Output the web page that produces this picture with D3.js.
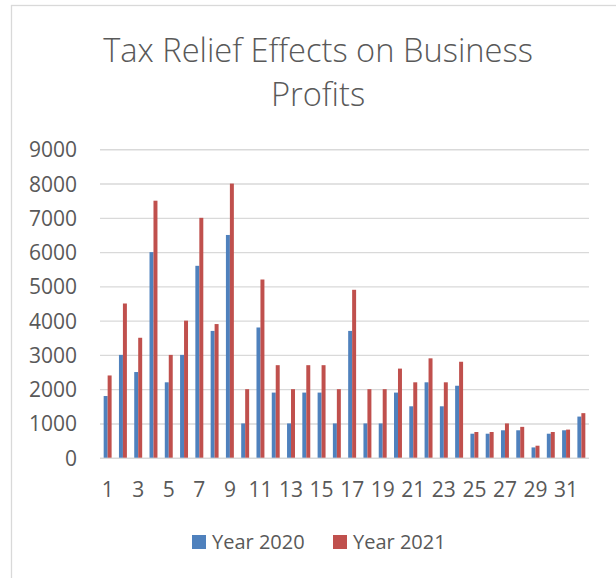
<!DOCTYPE html>
<html><head><meta charset="utf-8">
<script src="https://cdn.jsdelivr.net/npm/d3@7"></script>
<style>html,body{margin:0;padding:0;background:#fff;}svg{display:block;}</style>
</head><body>
<svg id="chart" width="616" height="578"></svg>
<script>
const titleLines = ["Tax Relief Effects on Business", "Profits"];
const categories = d3.range(1, 33).map(String);
const seriesNames = ["Year 2020", "Year 2021"];
const year2020 = [1800,3000,2500,6000,2200,3000,5600,3700,6500,1000,3800,1900,1000,1900,1900,1000,3700,1000,1000,1900,1500,2200,1500,2100,700,700,800,800,300,700,800,1200];
const year2021 = [2400,4500,3500,7500,3000,4000,7000,3900,8000,2000,5200,2700,2000,2700,2700,2000,4900,2000,2000,2600,2200,2900,2200,2800,750,750,1000,900,350,750,820,1300];
const yTicks = [0,1000,2000,3000,4000,5000,6000,7000,8000,9000];
const xTickLabels = categories.filter((d, i) => i % 2 === 0);
const colors = ["#4F81BD", "#C0504D"];

const svg = d3.select("#chart");
const font = "'Open Sans', sans-serif";
const textColor = "#595959";

// chart border
svg.append("rect").attr("x", 11.5).attr("y", 5.5).attr("width", 620).attr("height", 590)
  .attr("fill", "#fff").attr("stroke", "#d9d9d9").attr("stroke-width", 1.3);

const plotLeft = 100, plotRight = 589, plotTop = 149.3, plotBottom = 457.7;
const y = d3.scaleLinear().domain([0, 9000]).range([plotBottom, plotTop]);
const x = d3.scaleBand().domain(categories).range([plotLeft, plotRight]).paddingInner(0.48).paddingOuter(0.24);
const xs = d3.scaleBand().domain(seriesNames).range([0, x.bandwidth()]);

// title
const title = svg.append("text").attr("text-anchor", "middle").attr("fill", textColor)
  .style("font-family", font).style("font-weight", 300).style("font-size", "34px");
title.selectAll("tspan").data(titleLines).join("tspan")
  .attr("x", 318).attr("y", (d, i) => 62 + i * 44).text(d => d);
const w0 = title.select("tspan").node().getComputedTextLength();
title.style("font-size", (34 * 430 / w0) + "px");

// grid
const yAxis = d3.axisLeft(y).tickValues(yTicks).tickFormat(d3.format("d"))
  .tickSize(-(plotRight - plotLeft)).tickPadding(23);
const gy = svg.append("g").attr("transform", `translate(${plotLeft},0)`).call(yAxis);
gy.select(".domain").remove();
gy.selectAll(".tick line").attr("stroke", "#d9d9d9").attr("stroke-width", 1.4);
gy.selectAll(".tick text").attr("fill", textColor).style("font-family", font).style("font-size", "21px").attr("dy", "0.36em");

// bars
const groups = svg.append("g").selectAll("g").data(categories).join("g")
  .attr("transform", d => `translate(${x(d)},0)`);
groups.selectAll("rect").data((d, i) => [
  {s: seriesNames[0], v: year2020[i], c: colors[0]},
  {s: seriesNames[1], v: year2021[i], c: colors[1]}
]).join("rect")
  .attr("x", d => xs(d.s)).attr("width", xs.bandwidth())
  .attr("y", d => y(d.v)).attr("height", d => y(0) - y(d.v))
  .attr("fill", d => d.c);

// x axis labels
const xAxis = d3.axisBottom(x).tickValues(xTickLabels).tickSize(0).tickPadding(24);
const gx = svg.append("g").attr("transform", `translate(0,${plotBottom})`).call(xAxis);
gx.select(".domain").remove();
gx.selectAll(".tick text").attr("fill", textColor).style("font-family", font).style("font-size", "21px");

// legend
const legend = svg.append("g");
const legendX = [192, 333];
seriesNames.forEach((name, i) => {
  legend.append("rect").attr("x", legendX[i]).attr("y", 535).attr("width", 14).attr("height", 14).attr("fill", colors[i]);
  legend.append("text").attr("x", legendX[i] + 20).attr("y", 549).attr("fill", textColor)
    .style("font-family", font).style("font-size", "20px").text(name);
});
</script>
</body></html>
